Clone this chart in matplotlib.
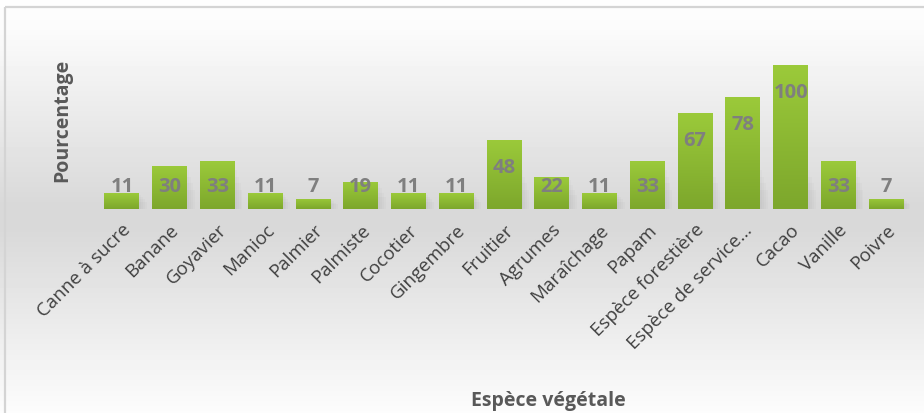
import numpy as np
import matplotlib
matplotlib.use('Agg')
import matplotlib.pyplot as plt
from matplotlib.patches import Rectangle
from matplotlib.colors import LinearSegmentedColormap

# === DATA ===
especes = ["Canne à sucre", "Banane", "Goyavier", "Manioc", "Palmier", "Palmiste",
           "Cocotier", "Gingembre", "Fruitier", "Agrumes", "Maraîchage", "Papam",
           "Espèce forestière", "Espèce de service…", "Cacao", "Vanille", "Poivre"]
pourcentage = [11, 30, 33, 11, 7, 19, 11, 11, 48, 22, 11, 33, 67, 78, 100, 33, 7]

W, H = 924, 414
fig = plt.figure(figsize=(W / 100, H / 100), dpi=100)
plt.rcParams['font.family'] = ['Open Sans', 'DejaVu Sans']

# === BACKGROUND (white -> grey at baseline -> white) ===
bg_ax = fig.add_axes([0, 0, 1, 1], zorder=-10)
ys = np.arange(H)
shade = np.interp(ys, [0, 30, 205, 230, 414], [0.995, 0.985, 0.85, 0.85, 0.99])
bg = np.repeat(shade[:, None], 2, axis=1)
bg_ax.imshow(bg, cmap='gray', vmin=0, vmax=1, aspect='auto', extent=(0, W, H, 0))
bg_ax.set_xlim(0, W)
bg_ax.set_ylim(H, 0)
bg_ax.axis('off')
bg_ax.add_patch(Rectangle((5, 8), W + 20, H + 20, fill=False, edgecolor='#d4d4d4', linewidth=1.6))

# === BAR AXES ===
left, right, top, base = 98, 910, 30, 210
ax = fig.add_axes([left / W, (H - base) / H, (right - left) / W, (base - top) / H])
ax.patch.set_alpha(0)
x = np.arange(len(especes))
ymax = 100 * (base - top) / (base - 66)

green = LinearSegmentedColormap.from_list('g', ['#7da72c', '#9bca3a'])
grad = np.linspace(0, 1, 64)[:, None]

# soft shadow next to bars (lower part only)
for xi, v in zip(x, pourcentage):
    for k in range(4):
        ax.add_patch(Rectangle((xi - 0.365 + 0.04 + k * 0.04, 0), 0.73, min(v, 30) * (0.9 - 0.15 * k),
                               facecolor='#707070', alpha=0.035, edgecolor='none', zorder=1))

bars = ax.bar(x, pourcentage, width=0.73, color='none', edgecolor='none', zorder=2)
for b in bars:
    x0, y0 = b.get_x(), b.get_y()
    im = ax.imshow(grad, cmap=green, origin='lower', aspect='auto', zorder=3,
                   extent=(x0, x0 + b.get_width(), y0, y0 + b.get_height()))
    im.set_clip_path(b)

for xi, v in zip(x, pourcentage):
    ax.text(xi, max(v - 19, 16), str(v), ha='center', va='center',
            fontsize=14.5, fontweight='bold', color='#7f7f7f', zorder=5)

ax.set_xlim(-0.5, len(especes) - 0.5)
ax.set_ylim(0, ymax)
ax.set_yticks([])
ax.set_xticks(x)
ax.set_xticklabels(especes, rotation=45, ha='right', rotation_mode='anchor',
                   fontsize=13.5, color='#404040')
ax.tick_params(axis='x', length=0, pad=8)
for s in ax.spines.values():
    s.set_visible(False)

fig.text(62 / W, 1 - 120 / H, "Pourcentage", rotation=90, ha='center', va='center',
         fontsize=14, fontweight='bold', color='#595959')
fig.text(548 / W, 1 - 401 / H, "Espèce végétale", ha='center', va='center',
         fontsize=14, fontweight='bold', color='#595959')

fig.savefig('out.png', dpi=100)
